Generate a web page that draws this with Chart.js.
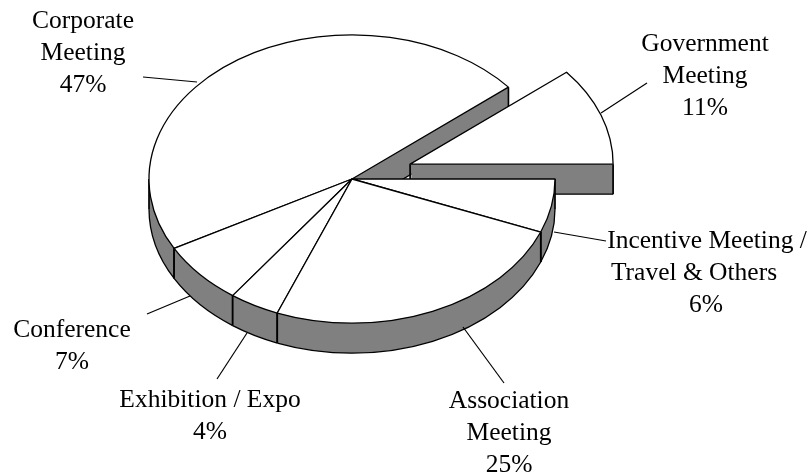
<!DOCTYPE html>
<html>
<head>
<meta charset="utf-8">
<title>Meeting types</title>
<style>
  html, body { margin: 0; padding: 0; background: #fff; }
  canvas { display: block; }
</style>
<script src="https://cdn.jsdelivr.net/npm/chart.js@4"></script>
</head>
<body>
<canvas id="myChart" width="807" height="476"></canvas>
<script>
//========================= Data ==================================//
const categories = [
  'Incentive Meeting / Travel & Others',
  'Association Meeting',
  'Exhibition / Expo',
  'Conference',
  'Corporate Meeting',
  'Government Meeting'
];
const shares = [6, 25, 4, 7, 47, 11];
const labelLines = [
  ['Incentive Meeting /', 'Travel & Others'],
  ['Association', 'Meeting'],
  ['Exhibition / Expo'],
  ['Conference'],
  ['Corporate', 'Meeting'],
  ['Government', 'Meeting']
];

//========================= Layout ================================//
const tilt = 0.71;
const depth = 30;
const radius = 203;
const lineHeight = 32;
const wallColor = '#808080';
const ink = '#000';
// back to front, so that every wall is hidden by the slice in front of it
const paintOrder = [4, 5, 0, 3, 2, 1];
const explode = [0, 0, 0, 0, 0, 247];
// centre x of each text line (the last one is the percentage), first baseline
const labelX = [[707, 694, 706], [509, 509, 509], [210, 210], [72, 72], [83, 83, 83], [705, 705, 705]];
const labelY = [248, 408, 407, 337, 28, 51];
const leaders = [
  [554, 232, 606, 241],
  [463, 327, 504, 383],
  [247, 333, 217, 379],
  [190, 296, 147, 314],
  [197, 82, 143, 77],
  [601, 113, 647, 83]
];

/***************************************************************
* Tilted pie with a wall
****************************************************************/
function tilted(ctx, arc, shift, fn) {
  ctx.save();
  ctx.translate(arc.x, arc.y + shift);
  ctx.scale(1, tilt);
  ctx.translate(-arc.x, -arc.y);
  fn();
  ctx.restore();
}

function sliceCentre(arc) {
  const mid = (arc.startAngle + arc.endAngle) / 2;
  const off = (arc.options.offset || 0) / 4;
  return { x: arc.x + Math.cos(mid) * off, y: arc.y + Math.sin(mid) * off };
}

// Arc also grows its radius when it has an offset, so the shift is done here instead
function drawFill(ctx, arc, color, shift) {
  const saved = arc.options;
  const c = sliceCentre(arc);
  arc.options = Object.assign({}, saved, { backgroundColor: color, borderWidth: 0, offset: 0 });
  tilted(ctx, arc, shift, () => {
    ctx.translate(c.x - arc.x, c.y - arc.y);
    arc.draw(ctx);
  });
  arc.options = saved;
}

// the path is built under the squash and stroked without it, to keep the line even
function strokeTop(ctx, arc) {
  const c = sliceCentre(arc);
  tilted(ctx, arc, 0, () => {
    ctx.beginPath();
    ctx.moveTo(c.x, c.y);
    ctx.arc(c.x, c.y, arc.outerRadius, arc.startAngle, arc.endAngle);
    ctx.closePath();
  });
  ctx.stroke();
}

function strokeWall(ctx, arc) {
  const c = sliceCentre(arc);
  const cy = arc.y + (c.y - arc.y) * tilt;
  const end = arc.endAngle;
  const rimEnd = Math.min(end, Math.PI);
  const angles = [arc.startAngle, end];
  if (arc.startAngle < Math.PI && end > Math.PI) angles.push(Math.PI);

  // lower rim on the front half only, and the cut face that looks towards the viewer
  tilted(ctx, arc, depth, () => {
    ctx.beginPath();
    if (arc.startAngle < rimEnd) ctx.arc(c.x, c.y, arc.outerRadius, arc.startAngle, rimEnd);
    if (Math.sin(end) < 1e-6) {
      ctx.moveTo(c.x, c.y);
      ctx.lineTo(c.x + Math.cos(end) * arc.outerRadius, c.y + Math.sin(end) * arc.outerRadius);
    }
  });
  ctx.lineWidth = 1.3;
  ctx.stroke();

  ctx.beginPath();
  ctx.moveTo(c.x, cy);
  ctx.lineTo(c.x, cy + depth);
  angles.forEach(a => {
    const px = c.x + Math.cos(a) * arc.outerRadius;
    const py = cy + Math.sin(a) * arc.outerRadius * tilt;
    ctx.moveTo(px, py);
    ctx.lineTo(px, py + depth);
  });
  ctx.lineWidth = 1.7;
  ctx.stroke();
  ctx.lineWidth = 1.3;
}

const pie3d = {
  id: 'pie3d',
  beforeDatasetsDraw(chart) {
    const ctx = chart.ctx;
    const arcs = chart.getDatasetMeta(0).data;
    ctx.save();
    ctx.strokeStyle = ink;
    ctx.lineJoin = 'round';
    paintOrder.forEach(i => {
      const arc = arcs[i];
      for (let d = depth; d > 0; d--) drawFill(ctx, arc, wallColor, d);
      strokeWall(ctx, arc);
      drawFill(ctx, arc, '#fff', 0);
      strokeTop(ctx, arc);
    });
    ctx.restore();
    return false;
  },
  afterDraw(chart) {
    const ctx = chart.ctx;
    ctx.save();
    ctx.strokeStyle = ink;
    ctx.fillStyle = ink;
    ctx.lineWidth = 1.2;
    ctx.font = '25.5px "Liberation Serif"';
    ctx.textAlign = 'center';
    ctx.textBaseline = 'alphabetic';
    categories.forEach((name, i) => {
      const l = leaders[i];
      ctx.beginPath();
      ctx.moveTo(l[0], l[1]);
      ctx.lineTo(l[2], l[3]);
      ctx.stroke();
      labelLines[i].concat(shares[i] + '%').forEach((text, n) => {
        ctx.fillText(text, labelX[i][n], labelY[i] + n * lineHeight);
      });
    });
    ctx.restore();
  }
};

/***************************************************************
* Chart
****************************************************************/
const ctx = document.getElementById('myChart').getContext('2d');

const myChart = new Chart(ctx, {
  type: 'pie',
  data: {
    labels: categories,
    datasets: [{
      data: shares,
      offset: explode,
      backgroundColor: '#fff',
      borderWidth: 0
    }]
  },
  options: {
    responsive: false,
    animation: false,
    events: [],
    rotation: 90,
    radius: radius,
    // puts the centre of the pie at 352,179
    layout: { padding: { left: 0, top: 0, right: 103, bottom: 118 } },
    plugins: {
      legend: { display: false },
      tooltip: { enabled: false }
    }
  },
  plugins: [pie3d]
});
</script>
</body>
</html>
